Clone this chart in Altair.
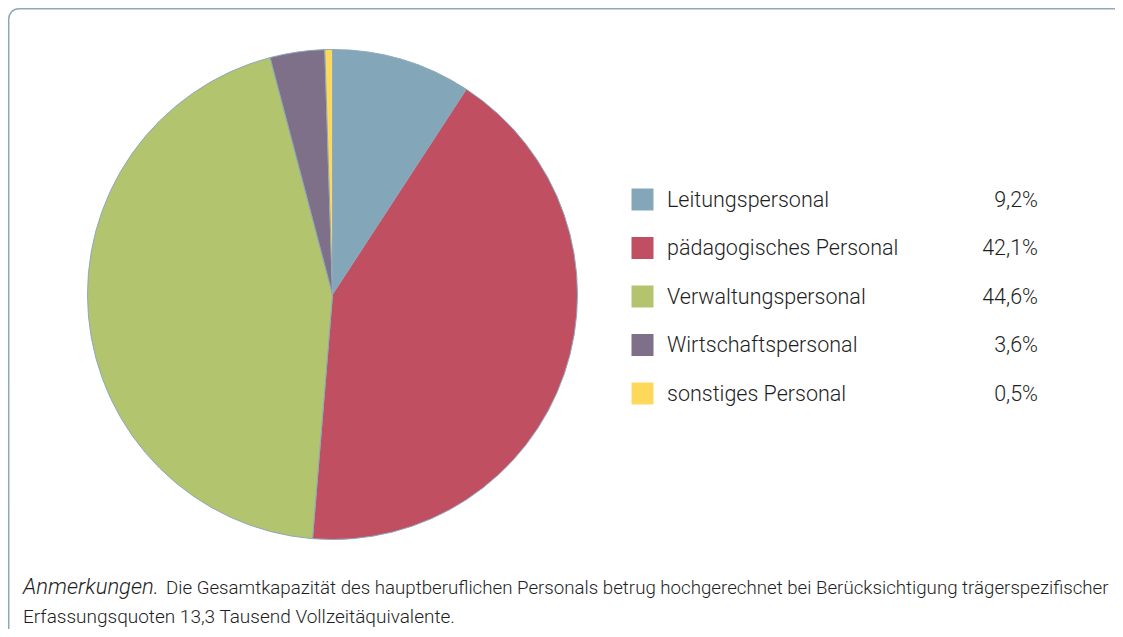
import altair as alt
import pandas as pd

categories = ["Leitungspersonal", "pädagogisches Personal", "Verwaltungspersonal",
              "Wirtschaftspersonal", "sonstiges Personal"]
shares = [9.2, 42.1, 44.6, 3.6, 0.5]
share_labels = ["9,2%", "42,1%", "44,6%", "3,6%", "0,5%"]
colors = ["#84a6b9", "#c04f61", "#b3c46e", "#7f7089", "#fdd85b"]

note_italic = "Anmerkungen."
note_line1 = "Die Gesamtkapazität des hauptberuflichen Personals betrug hochgerechnet bei Berücksichtigung trägerspezifischer"
note_line2 = "Erfassungsquoten 13,3 Tausend Vollzeitäquivalente."

df = pd.DataFrame({
    "cat": categories,
    "value": shares,
    "label": share_labels,
    "order": list(range(len(categories))),
})

FONT = "Roboto"
TXT = "#1e1e1e"
W, H = 1107, 621

color_scale = alt.Scale(domain=categories, range=colors)

frame = alt.Chart(pd.DataFrame({"k": [0]})).mark_rect(
    fill=None, stroke="#8fa9ba", strokeWidth=1.5, cornerRadius=10
).encode(
    x=alt.value(0.75), x2=alt.value(W + 30), y=alt.value(0.75), y2=alt.value(H + 40)
)

pie = alt.Chart(df).mark_arc(radius=245, stroke="#8fa9ba", strokeWidth=1).encode(
    theta=alt.Theta("value:Q", stack=True),
    order=alt.Order("order:Q"),
    color=alt.Color("cat:N", scale=color_scale, legend=None),
    x=alt.value(324.5),
    y=alt.value(286.5),
)

yscale = alt.Scale(domain=categories, range=[191.5, 385.5], type="point", padding=0)

leg_sq = alt.Chart(df).mark_square(size=484, opacity=1).encode(
    x=alt.value(634.5),
    y=alt.Y("cat:N", scale=yscale, axis=None),
    color=alt.Color("cat:N", scale=color_scale, legend=None),
)

leg_txt = alt.Chart(df).mark_text(
    align="left", baseline="middle", font=FONT, fontSize=21.5, fontWeight=300, color=TXT, dy=1
).encode(
    x=alt.value(659),
    y=alt.Y("cat:N", scale=yscale, axis=None),
    text="cat:N",
)

leg_pct = alt.Chart(df).mark_text(
    align="right", baseline="middle", font=FONT, fontSize=21.5, fontWeight=300, color=TXT, dy=1
).encode(
    x=alt.value(1030),
    y=alt.Y("cat:N", scale=yscale, axis=None),
    text="label:N",
)

notes = pd.DataFrame({"t": [note_italic, note_line1, note_line2]})

note_it = alt.Chart(notes.iloc[[0]]).mark_text(
    align="left", baseline="alphabetic", font=FONT, fontSize=22, fontWeight=300,
    fontStyle="italic", color=TXT
).encode(x=alt.value(15), y=alt.value(586), text="t:N")

note_l1 = alt.Chart(notes.iloc[[1]]).mark_text(
    align="left", baseline="alphabetic", font=FONT, fontSize=18.7, fontWeight=300, color=TXT
).encode(x=alt.value(158), y=alt.value(586), text="t:N")

note_l2 = alt.Chart(notes.iloc[[2]]).mark_text(
    align="left", baseline="alphabetic", font=FONT, fontSize=19, fontWeight=300, color=TXT
).encode(x=alt.value(15), y=alt.value(615), text="t:N")

chart = alt.layer(frame, pie, leg_sq, leg_txt, leg_pct, note_it, note_l1, note_l2).properties(
    width=W, height=H, padding=0, autosize=alt.AutoSizeParams(type="none"),
    background="white",
).configure_view(stroke=None).resolve_scale(color="shared")

chart.save("out.html", embed_options={"renderer": "svg", "actions": False})
